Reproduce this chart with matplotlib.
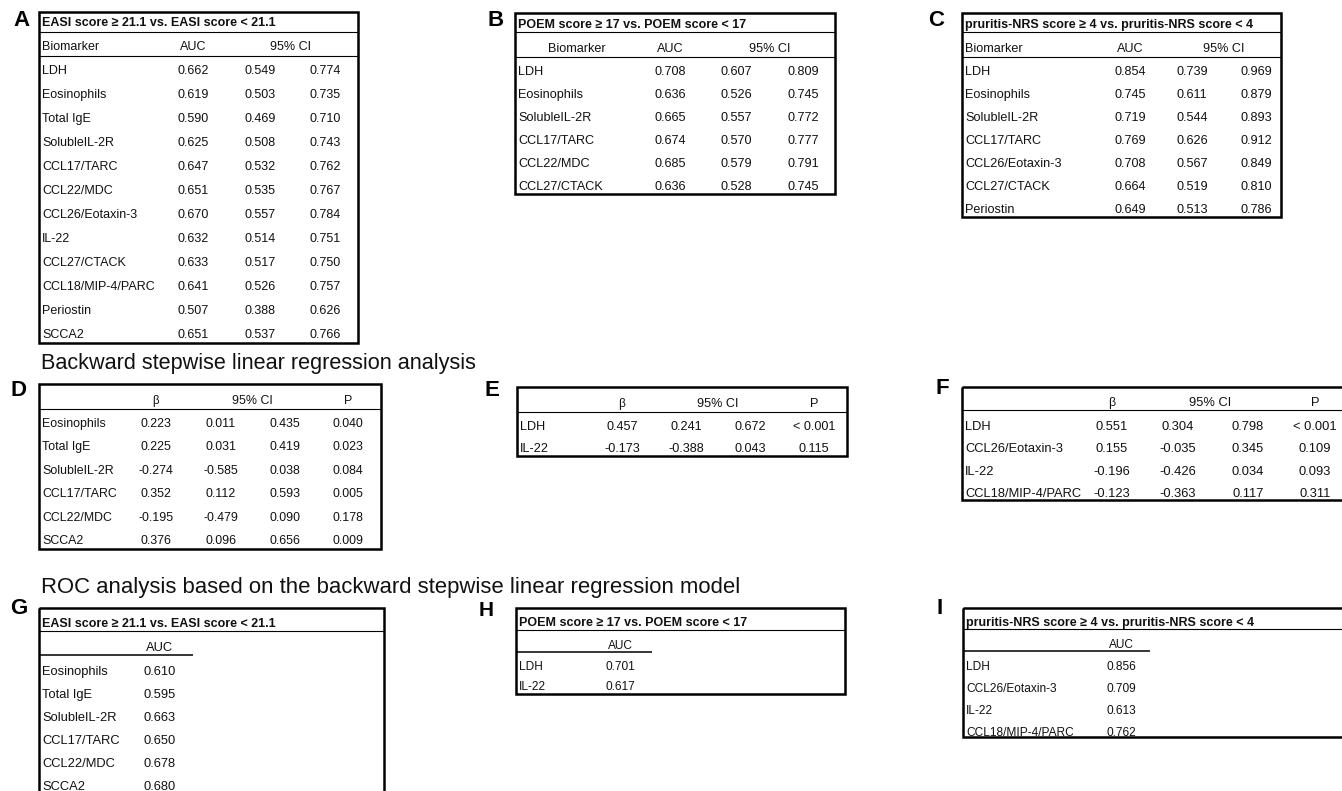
import matplotlib
matplotlib.use("Agg")
import matplotlib.pyplot as plt
from matplotlib.patches import Rectangle

plt.rcParams['font.family'] = ['Liberation Sans', 'DejaVu Sans']

# ---------------- data ----------------
A_title = "EASI score \u2265 21.1 vs. EASI score < 21.1"
A_markers = ["LDH", "Eosinophils", "Total IgE", "SolubleIL-2R", "CCL17/TARC", "CCL22/MDC",
             "CCL26/Eotaxin-3", "IL-22", "CCL27/CTACK", "CCL18/MIP-4/PARC", "Periostin", "SCCA2"]
A_auc = [0.662, 0.619, 0.590, 0.625, 0.647, 0.651, 0.670, 0.632, 0.633, 0.641, 0.507, 0.651]
A_lo = [0.549, 0.503, 0.469, 0.508, 0.532, 0.535, 0.557, 0.514, 0.517, 0.526, 0.388, 0.537]
A_hi = [0.774, 0.735, 0.710, 0.743, 0.762, 0.767, 0.784, 0.751, 0.750, 0.757, 0.626, 0.766]

B_title = "POEM score \u2265 17 vs. POEM score < 17"
B_markers = ["LDH", "Eosinophils", "SolubleIL-2R", "CCL17/TARC", "CCL22/MDC", "CCL27/CTACK"]
B_auc = [0.708, 0.636, 0.665, 0.674, 0.685, 0.636]
B_lo = [0.607, 0.526, 0.557, 0.570, 0.579, 0.528]
B_hi = [0.809, 0.745, 0.772, 0.777, 0.791, 0.745]

C_title = "pruritis-NRS score \u2265 4 vs. pruritis-NRS score < 4"
C_markers = ["LDH", "Eosinophils", "SolubleIL-2R", "CCL17/TARC", "CCL26/Eotaxin-3",
             "CCL27/CTACK", "Periostin"]
C_auc = [0.854, 0.745, 0.719, 0.769, 0.708, 0.664, 0.649]
C_lo = [0.739, 0.611, 0.544, 0.626, 0.567, 0.519, 0.513]
C_hi = [0.969, 0.879, 0.893, 0.912, 0.849, 0.810, 0.786]

D_markers = ["Eosinophils", "Total IgE", "SolubleIL-2R", "CCL17/TARC", "CCL22/MDC", "SCCA2"]
D_beta = [0.223, 0.225, -0.274, 0.352, -0.195, 0.376]
D_lo = [0.011, 0.031, -0.585, 0.112, -0.479, 0.096]
D_hi = [0.435, 0.419, 0.038, 0.593, 0.090, 0.656]
D_p = ["0.040", "0.023", "0.084", "0.005", "0.178", "0.009"]

E_markers = ["LDH", "IL-22"]
E_beta = [0.457, -0.173]
E_lo = [0.241, -0.388]
E_hi = [0.672, 0.043]
E_p = ["< 0.001", "0.115"]

F_markers = ["LDH", "CCL26/Eotaxin-3", "IL-22", "CCL18/MIP-4/PARC"]
F_beta = [0.551, 0.155, -0.196, -0.123]
F_lo = [0.304, -0.035, -0.426, -0.363]
F_hi = [0.798, 0.345, 0.034, 0.117]
F_p = ["< 0.001", "0.109", "0.093", "0.311"]

G_markers = ["Eosinophils", "Total IgE", "SolubleIL-2R", "CCL17/TARC", "CCL22/MDC", "SCCA2"]
G_auc = [0.610, 0.595, 0.663, 0.650, 0.678, 0.680]

H_title = "POEM score \u2265 17 vs. POEM score < 17"
H_markers = ["LDH", "IL-22"]
H_auc = [0.701, 0.617]

I_title = "pruritis-NRS score \u2265 4 vs. pruritis-NRS score < 4"
I_markers = ["LDH", "CCL26/Eotaxin-3", "IL-22", "CCL18/MIP-4/PARC"]
I_auc = [0.856, 0.709, 0.613, 0.762]

section1 = "Backward stepwise linear regression analysis"
section2 = "ROC analysis based on the backward stepwise linear regression model"

# ---------------- drawing ----------------
W, H = 1342, 791
fig = plt.figure(figsize=(W / 100, H / 100), dpi=100)
ax = fig.add_axes([0, 0, 1, 1])
ax.set_xlim(0, W)
ax.set_ylim(H, 0)
ax.axis('off')

TFS = 9.0
TXT = '#111111'
BOX_LW = 1.8
IN_LW = 0.8


def fmt(v):
    return f"{v:.3f}"


def box(x0, y0, x1, y1):
    ax.add_patch(Rectangle((x0, y0), x1 - x0, y1 - y0, fill=False, lw=BOX_LW, ec='black'))


def hline(x0, x1, y, lw=IN_LW):
    ax.plot([x0, x1], [y, y], color='black', lw=lw, solid_capstyle='butt')


def txt(x, y, s, ha='center', size=9.0, weight='normal'):
    ax.text(x, y, s, ha=ha, va='center', fontsize=size, fontweight=weight, color=TXT)


def letter(x, y, s, size=16):
    ax.text(x, y, s, ha='center', va='center', fontsize=size, fontweight='bold', color='black')


def auc_ci_table(bx, title, markers, auc, lo, hi, title_y, tline, head_y, hline_y,
                 row0, step, cols, ci_x, bio_x, bio_ha, fs):
    x0, y0, x1, y1 = bx
    box(*bx)
    txt(x0 + 3, title_y, title, ha='left', size=TFS, weight='bold')
    hline(x0, x1, tline)
    txt(bio_x, head_y, "Biomarker", ha=bio_ha, size=fs)
    txt(cols[0], head_y, "AUC", size=fs)
    txt(ci_x, head_y, "95% CI", size=fs)
    hline(x0, x1, hline_y)
    for i, m in enumerate(markers):
        y = row0 + i * step
        txt(x0 + 3, y, m, ha='left', size=fs)
        for c, arr in zip(cols, (auc, lo, hi)):
            txt(c, y, fmt(arr[i]), size=fs)


def beta_table(bx, markers, beta, lo, hi, p, head_y, hline_y, row0, step, cols, ci_x, fs):
    x0, y0, x1, y1 = bx
    box(*bx)
    txt(cols[0], head_y, "\u03b2", size=fs - 0.5)
    txt(ci_x, head_y, "95% CI", size=fs)
    txt(cols[3], head_y, "P", size=fs)
    hline(x0, x1, hline_y)
    for i, m in enumerate(markers):
        y = row0 + i * step
        txt(x0 + 3, y, m, ha='left', size=fs)
        txt(cols[0], y, fmt(beta[i]), size=fs)
        txt(cols[1], y, fmt(lo[i]), size=fs)
        txt(cols[2], y, fmt(hi[i]), size=fs)
        txt(cols[3], y, p[i], size=fs)


def roc_table(bx, title, markers, auc, title_y, tline, head_y, auc_x, sl_end, sl_y,
              row0, step, fs):
    x0, y0, x1, y1 = bx
    box(*bx)
    txt(x0 + 3, title_y, title, ha='left', size=TFS, weight='bold')
    hline(x0, x1, tline)
    txt(auc_x, head_y, "AUC", size=fs)
    hline(x0, sl_end, sl_y, lw=1.1)
    for i, m in enumerate(markers):
        y = row0 + i * step
        txt(x0 + 3, y, m, ha='left', size=fs)
        txt(auc_x, y, fmt(auc[i]), size=fs)


# Panel A
letter(21, 20, "A")
auc_ci_table((39, 12, 358, 343), A_title, A_markers, A_auc, A_lo, A_hi,
             23, 32, 47, 56, 71, 24.0, (193, 260, 325), 290, 42, 'left', 9.0)
# Panel B
letter(496, 20, "B")
auc_ci_table((515, 13, 835, 194), B_title, B_markers, B_auc, B_lo, B_hi,
             25, 32, 49, 57, 72, 23.0, (670, 736, 803), 770, 577, 'center', 9.1)
# Panel C
letter(936, 20, "C")
auc_ci_table((962, 13, 1281, 217), C_title, C_markers, C_auc, C_lo, C_hi,
             25, 32, 49, 57, 72, 23.0, (1130, 1192, 1256), 1224, 965, 'left', 9.1)

# Section 1
ax.text(41, 363, section1, ha='left', va='center', fontsize=15.6, color=TXT)

letter(18, 390, "D")
beta_table((39, 384, 381, 549), D_markers, D_beta, D_lo, D_hi, D_p,
           401, 409, 424, 23.4, (156, 221, 285, 348), 252, 8.9)
letter(492, 390, "E")
beta_table((517, 387, 847, 456), E_markers, E_beta, E_lo, E_hi, E_p,
           404, 412, 427, 22.0, (622, 686, 750, 814), 718, 9.1)
letter(942, 388, "F")
beta_table((962, 387, 1352, 500), F_markers, F_beta, F_lo, F_hi, F_p,
           403, 410, 427, 22.3, (1112, 1178, 1248, 1315), 1210, 9.3)

# Section 2
ax.text(41, 587, section2, ha='left', va='center', fontsize=15.9, color=TXT)

letter(19, 608, "G")
roc_table((39, 608, 384, 800), A_title, G_markers, G_auc,
          624, 631, 648, 160, 193, 655, 672, 23.0, 9.3)
letter(486, 610, "H", size=15)
roc_table((516, 608, 845, 694), H_title, H_markers, H_auc,
          623, 630, 646, 620, 652, 652, 667, 20.0, 8.6)
letter(940, 608, "I")
roc_table((963, 608, 1352, 737), I_title, I_markers, I_auc,
          623, 629, 645, 1121, 1150, 651, 667, 22.0, 8.6)

fig.savefig("out.png", dpi=100)
